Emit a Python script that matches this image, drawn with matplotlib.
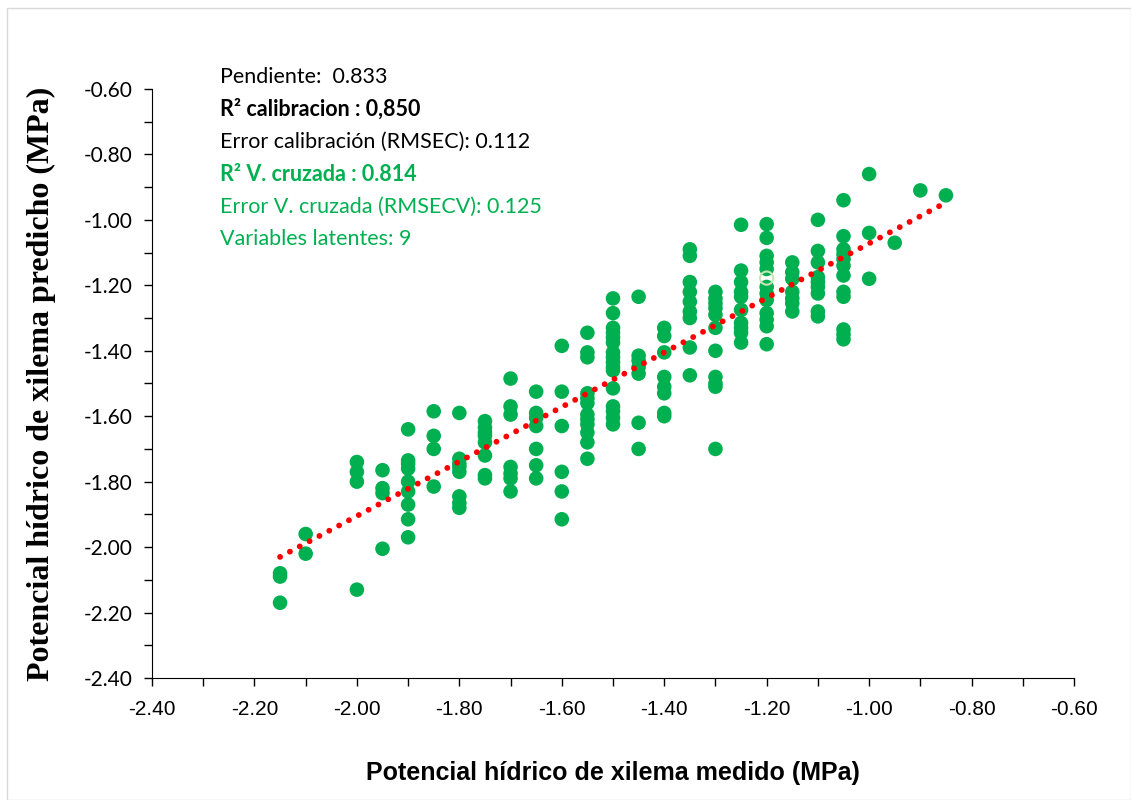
import matplotlib
matplotlib.use("Agg")
import matplotlib.pyplot as plt
from matplotlib.ticker import MultipleLocator, FormatStrFormatter
from matplotlib.patches import Rectangle

# measured potential (x) with the predicted values found in each column
medido = {
    -2.15: [-2.08, -2.09, -2.17],
    -2.10: [-1.96, -2.02],
    -2.00: [-1.74, -1.77, -1.80, -2.13],
    -1.95: [-1.765, -1.82, -1.835, -2.005],
    -1.90: [-1.64, -1.735, -1.745, -1.76, -1.80, -1.83, -1.87, -1.915, -1.97],
    -1.85: [-1.585, -1.66, -1.70, -1.815],
    -1.80: [-1.59, -1.73, -1.745, -1.755, -1.77, -1.845, -1.865, -1.88],
    -1.75: [-1.615, -1.635, -1.65, -1.66, -1.68, -1.72, -1.78, -1.79],
    -1.70: [-1.485, -1.57, -1.595, -1.755, -1.775, -1.79, -1.83],
    -1.65: [-1.525, -1.59, -1.605, -1.63, -1.70, -1.75, -1.79],
    -1.60: [-1.385, -1.525, -1.63, -1.77, -1.83, -1.915],
    -1.55: [-1.345, -1.405, -1.42, -1.53, -1.545, -1.56, -1.595, -1.61, -1.625,
            -1.65, -1.68, -1.73],
    -1.50: [-1.24, -1.285, -1.33, -1.345, -1.36, -1.375, -1.405, -1.42, -1.435,
            -1.45, -1.46, -1.515, -1.57, -1.585, -1.605, -1.625],
    -1.45: [-1.235, -1.415, -1.43, -1.45, -1.47, -1.62, -1.70],
    -1.40: [-1.33, -1.355, -1.405, -1.48, -1.51, -1.53, -1.59, -1.60],
    -1.35: [-1.09, -1.11, -1.19, -1.22, -1.25, -1.28, -1.30, -1.39, -1.475],
    -1.30: [-1.22, -1.24, -1.255, -1.27, -1.29, -1.33, -1.40, -1.48, -1.50,
            -1.51, -1.70],
    -1.25: [-1.015, -1.155, -1.19, -1.22, -1.235, -1.275, -1.315, -1.33, -1.345,
            -1.375],
    -1.20: [-1.013, -1.055, -1.11, -1.13, -1.15, -1.205, -1.225, -1.245, -1.285,
            -1.305, -1.325, -1.38],
    -1.15: [-1.13, -1.16, -1.18, -1.22, -1.24, -1.255, -1.28],
    -1.10: [-1.00, -1.095, -1.13, -1.175, -1.19, -1.205, -1.225, -1.28, -1.295],
    -1.05: [-0.94, -1.05, -1.09, -1.105, -1.12, -1.14, -1.17, -1.22, -1.235,
            -1.335, -1.35, -1.365],
    -1.00: [-0.86, -1.04, -1.18],
    -0.95: [-1.07],
    -0.90: [-0.91],
    -0.85: [-0.925],
}
hueco_x = [-1.20]
hueco_y = [-1.178]

pendiente = 0.833
intercepto = -0.239

lineas = [
    ("Pendiente:  0.833", "black", "normal"),
    ("R² calibracion : 0,850", "black", "bold"),
    ("Error calibración (RMSEC): 0.112", "black", "normal"),
    ("R² V. cruzada : 0.814", "#00B050", "bold"),
    ("Error V. cruzada (RMSECV): 0.125", "#00B050", "normal"),
    ("Variables latentes: 9", "#00B050", "normal"),
]

xs, ys = [], []
for x, vals in medido.items():
    for v in vals:
        xs.append(x)
        ys.append(v)

fig = plt.figure(figsize=(11.31, 8), dpi=100)
fig.patches.append(Rectangle((0.006, 0.0), 0.994, 0.99, transform=fig.transFigure,
                             fill=False, edgecolor="#d9d9d9", linewidth=1))
ax = fig.add_axes([0.1344, 0.1525, 0.8152, 0.7363])

ax.scatter(xs, ys, s=110, color="#00B050", edgecolors="none", zorder=3)
ax.scatter(hueco_x, hueco_y, s=90, facecolors="none", edgecolors="#C9E3B5",
           linewidths=1.5, zorder=4)

x0, x1 = min(xs), max(xs)
ax.plot([x0, x1], [pendiente * x0 + intercepto, pendiente * x1 + intercepto],
        color="#FF0000", linewidth=4.2, linestyle=(0, (0.01, 1.9)),
        dash_capstyle="round", zorder=5)

ax.set_xlim(-2.4, -0.6)
ax.set_ylim(-2.4, -0.6)
ax.xaxis.set_major_locator(MultipleLocator(0.2))
ax.xaxis.set_minor_locator(MultipleLocator(0.1))
ax.yaxis.set_major_locator(MultipleLocator(0.2))
ax.yaxis.set_minor_locator(MultipleLocator(0.1))
ax.xaxis.set_major_formatter(FormatStrFormatter("%.2f"))
ax.yaxis.set_major_formatter(FormatStrFormatter("%.2f"))
ax.spines["top"].set_visible(False)
ax.spines["right"].set_visible(False)
ax.tick_params(which="both", direction="out", length=6, width=1, color="black")
ax.tick_params(axis="x", labelsize=15, pad=10)
ax.tick_params(axis="y", labelsize=15, pad=8)
for lab in ax.get_xticklabels():
    lab.set_family(["Liberation Sans Narrow", "Liberation Sans"])
for lab in ax.get_yticklabels():
    lab.set_family(["Lato", "DejaVu Sans"])

ax.set_xlabel("Potencial hídrico de xilema medido (MPa)", fontsize=18,
              fontweight="bold", family=["Liberation Sans Narrow", "Liberation Sans"],
              labelpad=30)
ax.set_ylabel("Potencial hídrico de xilema predicho (MPa)", fontsize=23,
              fontweight="bold", family=["Liberation Serif", "DejaVu Serif"],
              labelpad=20)

for i, (texto, color, peso) in enumerate(lineas):
    fig.text(220 / 1131, 1 - (77 + i * 32.4) / 800, texto, color=color,
             fontweight=peso, fontsize=15.5, family=["Lato", "DejaVu Sans"],
             va="center", ha="left")

fig.savefig("out.png", dpi=100)
